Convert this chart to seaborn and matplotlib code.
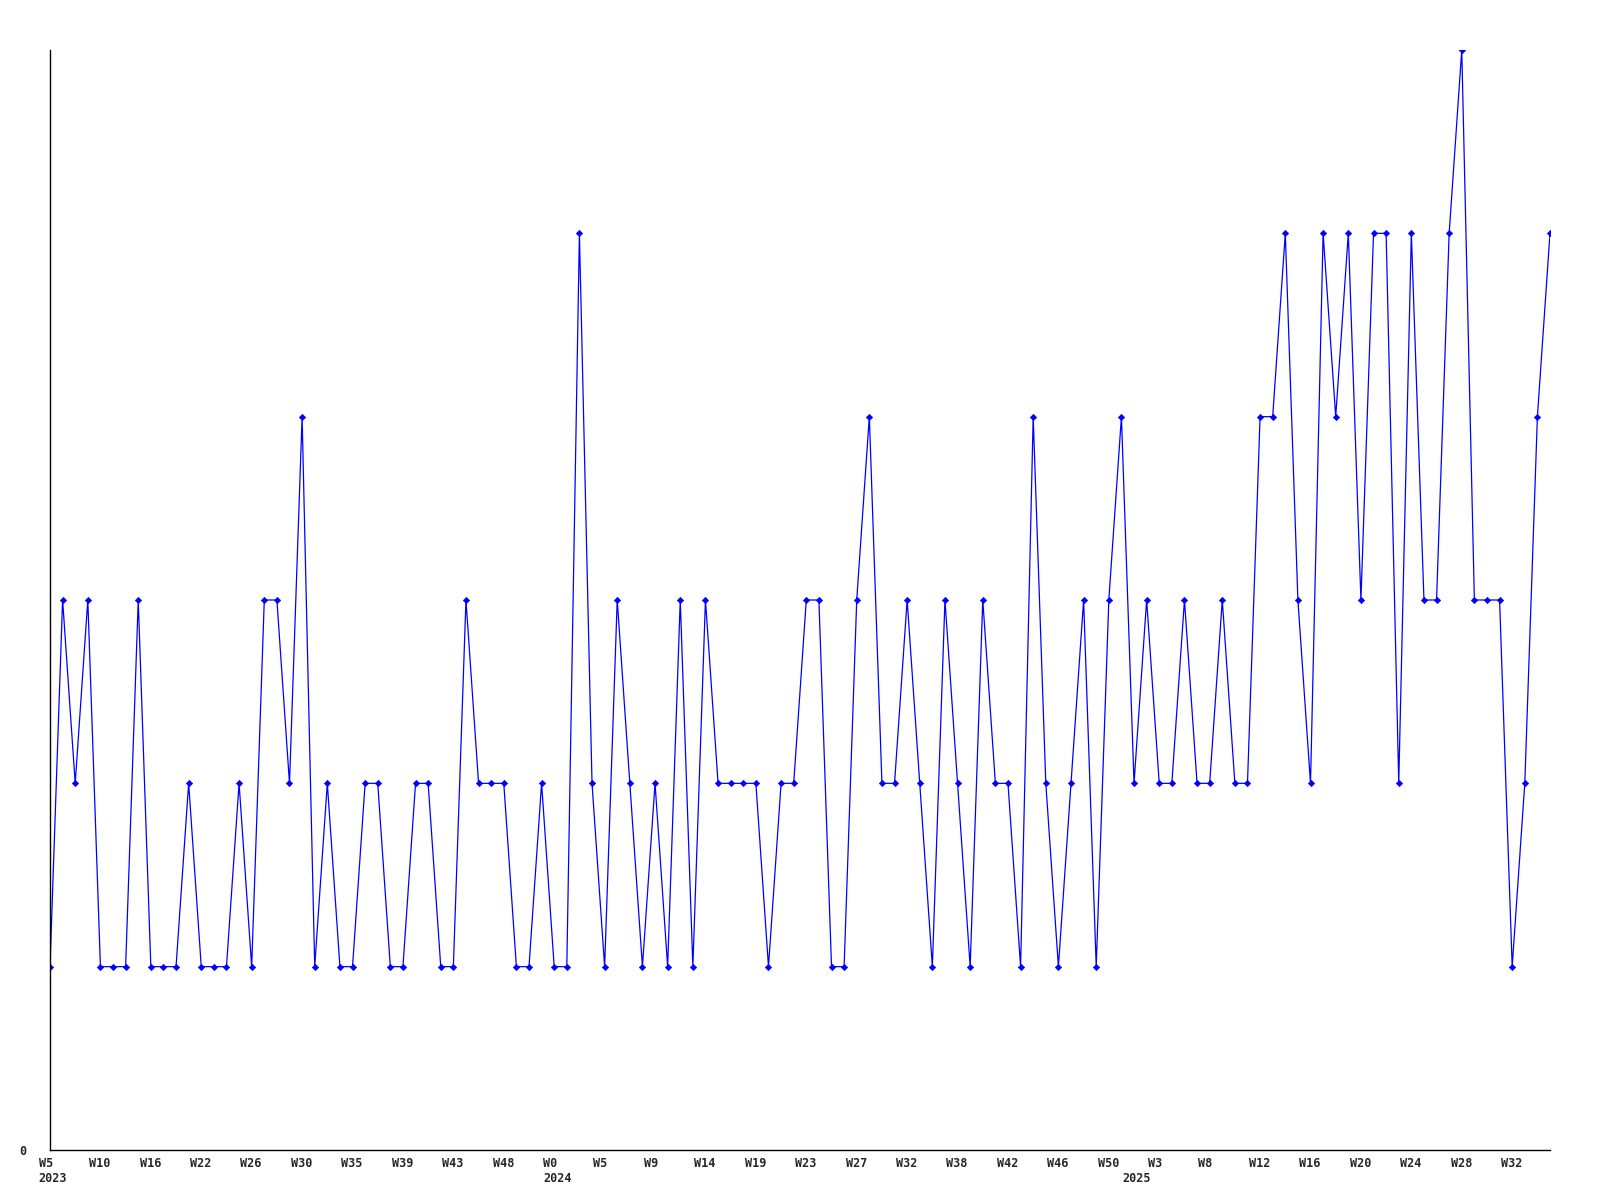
import matplotlib
matplotlib.use("Agg")
import matplotlib.pyplot as plt
import matplotlib.transforms as mtransforms
import seaborn as sns
import pandas as pd

# weekly counts, one value per point
counts = [
    1, 3, 2, 3, 1, 1, 1, 3, 1, 1, 1, 2, 1, 1, 1, 2, 1, 3, 3, 2, 4,
    1, 2, 1, 1, 2, 2, 1, 1, 2, 2, 1, 1, 3, 2, 2, 2, 1, 1, 2, 1, 1,
    5, 2, 1, 3, 2, 1, 2, 1, 3, 1, 3, 2, 2, 2, 2, 1, 2, 2, 3, 3,
    1, 1, 3, 4, 2, 2, 3, 2, 1, 3, 2, 1, 3, 2, 2, 1, 4, 2, 1, 2, 3,
    1, 3, 4, 2, 3, 2, 2, 3, 2, 2, 3, 2, 2, 4, 4, 5, 3, 2, 5, 4, 5,
    3, 5, 5, 2, 5, 3, 3, 5, 6, 3, 3, 3, 1, 2, 4, 5,
]

# week labels shown under every 4th point
week_labels = [
    "W5", "W10", "W16", "W22", "W26", "W30", "W35", "W39", "W43", "W48",
    "W0", "W5", "W9", "W14", "W19", "W23", "W27", "W32", "W38", "W42",
    "W46", "W50", "W3", "W8", "W12", "W16", "W20", "W24", "W28", "W32",
]
week_step = 4

# year labels and the point where each year starts
years = ["2023", "2024", "2025"]
year_start = [0, 40, 86]

df = pd.DataFrame({"idx": range(len(counts)), "count": counts})

sns.set_style("white")
plt.rcParams["font.family"] = ["DejaVu Sans Mono"]

fig = plt.figure(figsize=(16, 12), dpi=100)
ax = fig.add_axes([50 / 1600, 50 / 1200, 1500 / 1600, 1100 / 1200])

sns.lineplot(data=df, x="idx", y="count", ax=ax, color="#0000ff", linewidth=0.9,
             marker="D", markersize=3.2, markeredgewidth=0.5, markeredgecolor="#0000ff")

ax.set_xlim(0, len(counts) - 1)
ax.set_ylim(0, max(counts))
ax.set_xlabel("")
ax.set_ylabel("")

# Ticks and labels
ax.xaxis.remove_overlapping_locs = False
ax.tick_params(axis="x", which="major", length=0, pad=5)
ax.tick_params(axis="x", which="minor", length=0, pad=15.5)
ax.tick_params(axis="y", length=0, pad=17)
ax.set_yticks([0])
ax.set_yticklabels(["0"], fontsize=8.5, fontweight="bold")
ax.set_xticks(list(range(0, len(week_labels) * week_step, week_step)))
ax.set_xticklabels(week_labels, fontsize=8.5, fontweight="bold", ha="left", va="top")
ax.set_xticks(year_start, minor=True)
ax.set_xticklabels(years, minor=True, fontsize=8.5, fontweight="bold", ha="left", va="top")
shift = mtransforms.ScaledTranslation(-0.112, 0, fig.dpi_scale_trans)
for lab in ax.get_xticklabels() + ax.get_xticklabels(minor=True):
    lab.set_transform(lab.get_transform() + shift)

for side in ["top", "right"]:
    ax.spines[side].set_visible(False)
for side in ["left", "bottom"]:
    ax.spines[side].set_color("black")
    ax.spines[side].set_linewidth(1)

fig.savefig("out.png", dpi=100)
